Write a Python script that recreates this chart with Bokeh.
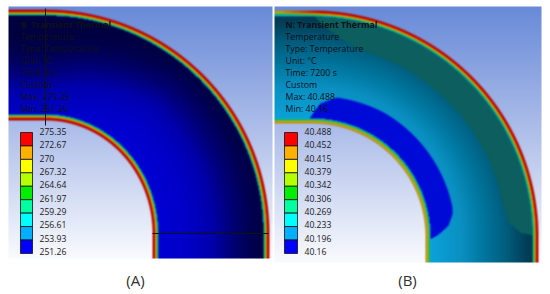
import numpy as np
from bokeh.plotting import figure
from bokeh.embed import file_html
from bokeh.resources import INLINE
from bokeh.core.properties import value

PAGE_W, PAGE_H = 550, 294
FONT = "Open Sans"

# ---- texts and colour legend ----
info_a = ["B: Transient Thermal", "Temperature", "Type: Temperature", "Unit: °C", "Time: 5 s", "Custom", "Max: 275.35", "Min: 251.26"]
info_b = ["N: Transient Thermal", "Temperature", "Type: Temperature", "Unit: °C", "Time: 7200 s", "Custom", "Max: 40.488", "Min: 40.16"]
levels_a = ["275.35", "272.67", "270", "267.32", "264.64", "261.97", "259.29", "256.61", "253.93", "251.26"]
levels_b = ["40.488", "40.452", "40.415", "40.379", "40.342", "40.306", "40.269", "40.233", "40.196", "40.16"]
swatches = ["#ff0000", "#ffb000", "#ffff00", "#b4ff00", "#00ee00", "#00ffa0", "#00ffff", "#00b0ff", "#0000ff"]

# ---- panel geometry (reference pixels, y downwards) ----
panel_a = dict(x0=8, x1=272, y0=6, y1=258, xc=45, yc=233, R=224, rx=107, ry=113)
panel_b = dict(x0=274, x1=541, y0=6, y1=262, xc=312, yc=236, R=226, rx=113, ry=113)

# background shading (top -> bottom)
bg_pos = [0.0, 0.5, 1.0]
bg_rgb = [(104, 138, 216), (176, 192, 234), (250, 251, 254)]

# interior temperature shading across the pipe wall (inner -> outer)
s_pos_a = [0.0, 0.3, 0.5, 0.7, 0.85, 1.0]
s_rgb_a = [(0, 0, 215), (0, 0, 200), (0, 0, 175), (0, 0, 115), (0, 0, 80), (0, 0, 65)]
s_pos_b = [0.0, 0.33, 0.51, 0.70, 0.89, 1.0]
s_rgb_b = [(10, 165, 222), (10, 143, 192), (0, 119, 160), (0, 95, 128), (0, 64, 88), (0, 46, 70)]

# wall bands by distance in px from the free surface
hot_d = [0, 2.2, 3.0, 3.8, 4.6, 5.4, 6.2]
hot_rgb = [(175, 12, 12), (195, 5, 5), (225, 120, 0), (205, 195, 0), (50, 180, 60), (0, 175, 160), (0, 120, 210)]
warm_d = [0, 1.5, 2.6, 3.6, 4.5, 5.2]
warm_rgb = [(175, 120, 30), (195, 165, 10), (150, 180, 20), (40, 175, 90), (0, 180, 175), (0, 150, 215)]

# panel B contour shapes: angle along the bend (degrees) and radius (px)
blue_theta = [-3, -2, 3.4, 10, 30, 78, 80.7, 85.4, 89.5, 92, 95]
blue_r = [100, 116, 133, 141, 143, 143, 142, 136.4, 125, 115, 100]
blue_rgb = (0, 10, 215)
teal_theta = [-1, 0.8, 3.6, 8, 14, 45, 80, 86, 89, 89.7, 91]
teal_r = [228, 219, 209, 200, 192, 191, 192.7, 196.5, 208, 220, 228]
teal_rgb = (12, 95, 94)


def ramp(t, pos, rgb):
    return np.stack([np.interp(t, pos, [c[k] for c in rgb]) for k in range(3)], axis=-1)


def soften(a):
    w = (0.2, 0.6, 0.2)
    for axis in (0, 1):
        pad = [(0, 0), (0, 0), (0, 0)]
        pad[axis] = (1, 1)
        b = np.pad(a, pad, mode="edge")
        lo = np.take(b, range(0, b.shape[axis] - 2), axis=axis)
        mid = np.take(b, range(1, b.shape[axis] - 1), axis=axis)
        hi = np.take(b, range(2, b.shape[axis]), axis=axis)
        a = w[0] * lo + w[1] * mid + w[2] * hi
    return a


def field(g, use_b):
    xs = g["x0"] + 0.5 + np.arange(g["x1"] - g["x0"])
    ys = g["y1"] - 0.5 - np.arange(g["y1"] - g["y0"])
    X, Y = np.meshgrid(xs, ys)
    out = ramp((Y - g["y0"]) / (g["y1"] - g["y0"]), bg_pos, bg_rgb)
    dx = np.maximum(X - g["xc"], 0)
    dy = np.maximum(g["yc"] - Y, 0)
    r = np.hypot(dx, dy)
    rho_in = np.hypot(dx / g["rx"], dy / g["ry"])
    d_in = (rho_in - 1) * (g["rx"] + g["ry"]) / 2
    d_out = g["R"] - r
    s = np.clip(d_in / np.maximum(d_in + d_out, 1e-6), 0, 1)
    theta = np.degrees(np.arctan2(dx, dy))
    left = X < g["xc"]
    theta[left] = -np.degrees((g["xc"] - X[left]) / np.maximum(r[left], 1))
    low = Y > g["yc"]
    theta[low] = 90 + np.degrees((Y[low] - g["yc"]) / np.maximum(r[low], 1))

    if use_b:
        body = ramp(s, s_pos_b, s_rgb_b)
        rb = np.interp(theta, teal_theta, teal_r, left=400, right=400)
        m = np.clip((r - rb) / 1.4 + 0.5, 0, 1)[..., None]
        body = body * (1 - m) + np.array(teal_rgb) * m
        rb = np.interp(theta, blue_theta, blue_r, left=0, right=0)
        m = np.clip((rb - r) / 1.4 + 0.5, 0, 1)[..., None]
        body = body * (1 - m) + np.array(blue_rgb) * m
    else:
        body = ramp(np.clip(s + 0.25 * (1 - np.clip(theta / 40, 0, 1)), 0, 1), s_pos_a, s_rgb_a)

    # walls
    w = np.clip(d_out / hot_d[-1], 0, 1)[..., None]
    wall = ramp(d_out, hot_d, hot_rgb)
    if use_b:
        blend = np.clip((X - 280) / 40, 0, 1)[..., None]
        wall = wall * blend + ramp(d_out, warm_d, warm_rgb) * (1 - blend)
    body = np.where(w < 1, wall, body)
    in_rgb = ramp(d_in, warm_d, warm_rgb) if use_b else ramp(d_in, hot_d, hot_rgb)
    lim = warm_d[-1] if use_b else hot_d[-1]
    body = np.where((d_in < lim)[..., None], in_rgb, body)

    a = (np.clip(d_in + 0.5, 0, 1) * np.clip(d_out + 0.5, 0, 1))[..., None]
    out = soften(out * (1 - a) + body * a)
    img = np.empty(X.shape, dtype=np.uint32)
    v = img.view(dtype=np.uint8).reshape(X.shape + (4,))
    v[..., :3] = np.clip(out, 0, 255).astype(np.uint8)
    v[..., 3] = 255
    return img


p = figure(width=PAGE_W, height=PAGE_H, x_range=(0, PAGE_W), y_range=(0, PAGE_H),
           output_backend="svg", toolbar_location=None, min_border=0)
p.axis.visible = False
p.grid.visible = False
p.outline_line_color = None
p.background_fill_color = "white"
p.border_fill_color = "white"


def fy(y):
    return PAGE_H - np.asarray(y, dtype=float)


for g, use_b, info, levels, tx, lx, sx0, sx1 in [
    (panel_a, False, info_a, levels_a, 20, 39, 20, 32),
    (panel_b, True, info_b, levels_b, 285, 304, 284, 297),
]:
    p.image_rgba(image=[field(g, use_b)], x=g["x0"], y=fy(g["y1"]),
                 dw=g["x1"] - g["x0"], dh=g["y1"] - g["y0"])
    iy = 24 + 12 * np.arange(len(info))
    p.text(x=[tx], y=fy(iy[:1]), text=info[:1],
           text_font=value(FONT), text_font_size="8.7px", text_font_style="bold",
           text_color="#101018", text_baseline="middle")
    p.text(x=[tx] * (len(info) - 1), y=fy(iy[1:]), text=info[1:],
           text_font=value(FONT), text_font_size="8.8px",
           text_color="#101018", text_baseline="middle")
    top = 132 + 13.44 * np.arange(len(swatches))
    p.quad(left=sx0, right=sx1, top=fy(top), bottom=fy(top + 13.44), fill_color=swatches,
           line_color="#101010", line_width=0.8)
    ly = 131 + 13.33 * np.arange(len(levels))
    p.text(x=[lx] * len(levels), y=fy(ly), text=levels, text_font=value(FONT),
           text_font_size="8.6px", text_color="#181818", text_baseline="middle")

# probe lines of panel A
p.line([panel_a["xc"]] * 2, fy([8, 125]), line_color="#101010", line_width=1)
p.line([152, 268], fy([panel_a["yc"]] * 2), line_color="#101010", line_width=1)

p.text(x=[135, 407], y=fy([279, 279]), text=["(A)", "(B)"], text_font=value(FONT),
       text_font_size="15px", text_color="#303030", text_align="center", text_baseline="middle")

open("out.html", "w").write(file_html(p, INLINE))
